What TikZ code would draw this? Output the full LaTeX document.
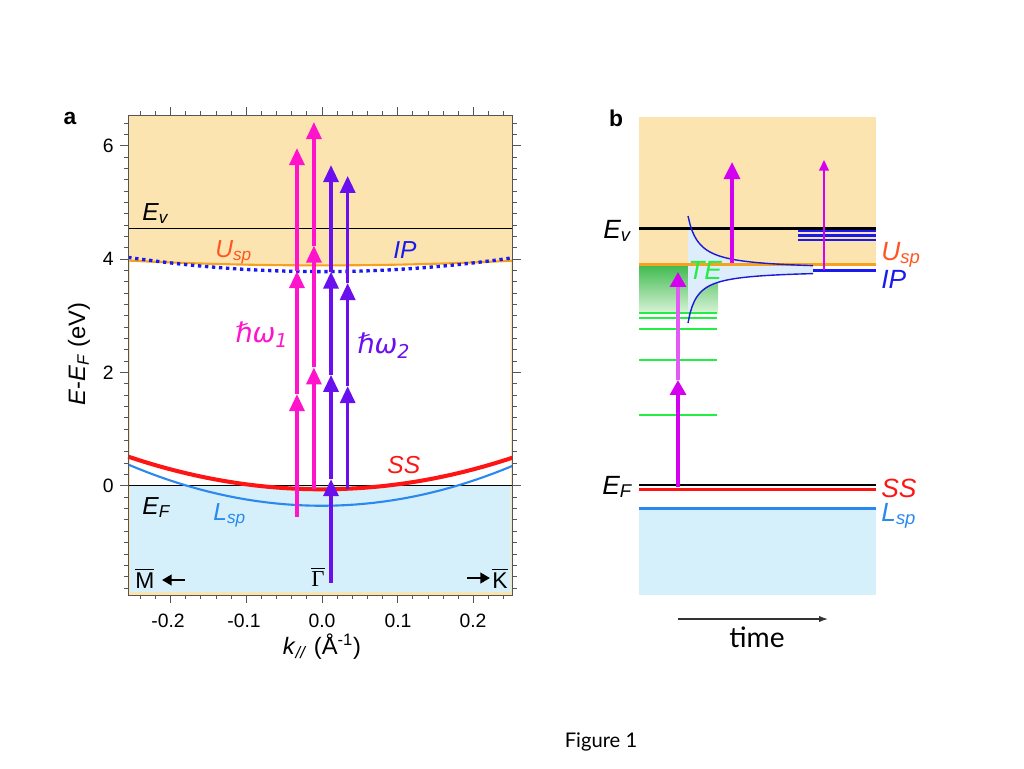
\documentclass[tikz,border=0pt]{standalone}
\usepackage{fontspec}
\setmainfont{Liberation Sans}
\newfontfamily\dvsans{DejaVu Sans}
\newfontfamily\lserif{Liberation Serif}
\newfontfamily\capfont{Lato}
\usetikzlibrary{arrows.meta, positioning, calc}
\definecolor{vacorange}{HTML}{FCE4B0}
\definecolor{bulkblue}{HTML}{D5F0FB}
\definecolor{usporange}{HTML}{F7A21E}
\definecolor{usplabel}{HTML}{FF5522}
\definecolor{ipblue}{HTML}{1A1AEE}
\definecolor{ssred}{HTML}{FF1414}
\definecolor{lspblue}{HTML}{2A88EE}
\definecolor{pumpmag}{HTML}{FF14CC}
\definecolor{probepur}{HTML}{6A10EE}
\definecolor{bmag}{HTML}{D400F0}
\definecolor{tegreen}{HTML}{22EE44}
\definecolor{tetop}{HTML}{3CB94B}
\definecolor{tebot}{HTML}{D8F3D8}
\definecolor{wpblue}{HTML}{DDEDFC}
\definecolor{wpline}{HTML}{1A1AD8}
\definecolor{framegray}{HTML}{555555}

\begin{document}
\begin{tikzpicture}[
    x=0.02cm, y=-0.02cm,
    ticklbl/.style={
        font=\fontsize{11}{13}\selectfont,
        inner sep=0pt
    },
    lbla/.style={
        font=\fontsize{14}{16}\selectfont\itshape,
        inner sep=0pt
    },
    lblb/.style={
        font=\fontsize{15}{17}\selectfont\itshape,
        inner sep=0pt
    },
    photon/.style={
        line width=2pt,
        -{Triangle[width=8.5pt, length=9.7pt]}
    },
    level/.style={line width=1.7pt},
    axtick/.style={draw=framegray, line width=0.5pt}
]
\useasboundingbox (0,0) rectangle (1024,768);

% Panel letters
\node[font=\fontsize{13}{15}\selectfont\bfseries, inner sep=0pt] (pa) at (70,118) {a};
\node[font=\fontsize{13}{15}\selectfont\bfseries, inner sep=0pt] (pb) at (616,118) {b};

% Panel a (data coordinates: k in 1/A, E in eV)
\begin{scope}[xshift=6.44cm, yshift=-9.72cm, x=15.14cm, y=1.134cm]
  \fill[vacorange] (-0.256,6.54) rectangle (0.252,-1.93);
  \fill[white] plot[domain=-0.2535:0.2495, samples=40] (\x,{3.89+1.3*(\x)*(\x)})
      -- (0.2495,0) -- (-0.2535,0) -- cycle;
  \fill[bulkblue] (-0.2535,0) rectangle (0.2495,-1.88);

  % reference levels
  \draw[line width=0.5pt] (-0.256,4.55) -- (0.252,4.55);
  \draw[line width=0.5pt] (-0.256,0) -- (0.252,0);

  % bands
  \draw[usporange, line width=1.2pt] plot[domain=-0.256:0.252, samples=40] (\x,{3.89+1.3*(\x)*(\x)});
  \draw[ipblue, line width=1.9pt, dash pattern=on 1.9pt off 2.1pt]
      plot[domain=-0.256:0.252, samples=40] (\x,{3.78+3.84*(\x)*(\x)});
  \draw[lspblue, line width=1.2pt] plot[domain=-0.256:0.252, samples=40] (\x,{-0.35+11.1*(\x)*(\x)});
  \draw[ssred, line width=2.3pt] plot[domain=-0.256:0.252, samples=40] (\x,{-0.06+8.8*(\x)*(\x)});

  % photon ladders
  \coordinate (m1a) at (-0.033,-0.55);
  \coordinate (m1b) at (-0.033,1.62);
  \coordinate (m1c) at (-0.033,3.79);
  \coordinate (m1d) at (-0.033,5.96);
  \coordinate (m2a) at (-0.0106,-0.06);
  \coordinate (m2b) at (-0.0106,2.09);
  \coordinate (m2c) at (-0.0106,4.24);
  \coordinate (m2d) at (-0.0106,6.42);
  \coordinate (p1a) at (0.012,-1.71);
  \coordinate (p1b) at (0.012,0.12);
  \coordinate (p1c) at (0.012,1.96);
  \coordinate (p1d) at (0.012,3.78);
  \coordinate (p1e) at (0.012,5.66);
  \coordinate (p2a) at (0.034,-0.06);
  \coordinate (p2b) at (0.034,1.76);
  \coordinate (p2c) at (0.034,3.58);
  \coordinate (p2d) at (0.034,5.47);

  \draw[photon, pumpmag] (m1a) -- (m1b);
  \draw[photon, pumpmag] (m1b) -- (m1c);
  \draw[photon, pumpmag] (m1c) -- (m1d);
  \draw[photon, pumpmag] (m2a) -- (m2b);
  \draw[photon, pumpmag] (m2b) -- (m2c);
  \draw[photon, pumpmag] (m2c) -- (m2d);
  \draw[photon, probepur] (p1a) -- (p1b);
  \draw[photon, probepur] (p1b) -- (p1c);
  \draw[photon, probepur] (p1c) -- (p1d);
  \draw[photon, probepur] (p1d) -- (p1e);
  \draw[photon, probepur] (p2a) -- (p2b);
  \draw[photon, probepur] (p2b) -- (p2c);
  \draw[photon, probepur] (p2c) -- (p2d);

  % frame and ticks
  \draw[framegray, line width=0.7pt] (-0.256,-1.93) rectangle (0.252,6.54);
  \foreach \e in {-1.8,-1.6,...,6.45} {
    \draw[axtick] (-0.256,\e) -- ++(-0.0053,0);
    \draw[axtick] (0.252,\e) -- ++(0.0053,0);
  }
  \foreach \e in {0,2,4,6} {
    \draw[axtick] (-0.256,\e) -- ++(-0.0106,0);
    \draw[axtick] (0.252,\e) -- ++(0.0106,0);
  }
  \foreach \k in {-0.24,-0.22,...,0.245} {
    \draw[axtick] (\k,-1.93) -- ++(0,-0.07);
    \draw[axtick] (\k,6.54) -- ++(0,0.07);
  }
  \foreach \k in {-0.2,-0.1,0,0.1,0.2} {
    \draw[axtick] (\k,-1.93) -- ++(0,-0.14);
    \draw[axtick] (\k,6.54) -- ++(0,0.14);
  }
\end{scope}

% Panel a tick labels
\node[ticklbl, anchor=east] (y6) at (114,146) {6};
\node[ticklbl, anchor=east] (y4) at (114,259) {4};
\node[ticklbl, anchor=east] (y2) at (114,373) {2};
\node[ticklbl, anchor=east] (y0) at (114,486) {0};
\node[ticklbl, anchor=north] (xm2) at (168,614) {-0.2};
\node[ticklbl, anchor=north] (xm1) at (244,614) {-0.1};
\node[ticklbl, anchor=north] (x00) at (322,614) {0.0};
\node[ticklbl, anchor=north] (xp1) at (398,614) {0.1};
\node[ticklbl, anchor=north] (xp2) at (473,614) {0.2};

% Panel a axis titles
\node[font=\fontsize{13.5}{15}\selectfont, rotate=90, inner sep=0pt] (ytitle) at (79,354)
    {\textit{E}-\textit{E}\textsubscript{\textit{F}} (eV)};
\node[font=\fontsize{13.5}{15}\selectfont, inner sep=0pt] (xtitle) at (322,647)
    {\textit{k}\textsubscript{\textit{//}} (Å\textsuperscript{-1})};

% Panel a labels
\node[lbla, anchor=base west] (evA) at (142,220) {E\textsubscript{v}};
\node[lbla, anchor=base west, usplabel] (uspA) at (215,257) {U\textsubscript{sp}};
\node[lbla, anchor=base west, ipblue] (ipA) at (393,258) {IP};
\node[lbla, anchor=base west, ssred] (ssA) at (387,473) {SS};
\node[lbla, anchor=base west] (efA) at (142,514) {E\textsubscript{F}};
\node[lbla, anchor=base west, lspblue] (lspA) at (213,520) {L\textsubscript{sp}};
\node[font=\fontsize{15.5}{17}\selectfont\dvsans\itshape, inner sep=0pt, anchor=base west, pumpmag]
    (hw1) at (235,342) {ℏω\textsubscript{1}};
\node[font=\fontsize{15.5}{17}\selectfont\dvsans\itshape, inner sep=0pt, anchor=base west, probepur]
    (hw2) at (357,353) {ℏω\textsubscript{2}};

% high-symmetry points
\node[font=\fontsize{13}{15}\selectfont, inner sep=0pt, anchor=base west] (ptM) at (135,588) {$\overline{\mbox{M}}$};
\node[font=\fontsize{13}{15}\selectfont, inner sep=0pt, anchor=base west] (ptG) at (311,586) {$\overline{\mbox{\lserif Γ}}$};
\node[font=\fontsize{13}{15}\selectfont, inner sep=0pt, anchor=base west] (ptK) at (492,588) {$\overline{\mbox{K}}$};
\coordinate (mArrS) at (185,580);
\coordinate (mArrE) at (162,580);
\coordinate (kArrS) at (467,578);
\coordinate (kArrE) at (490,578);
\draw[line width=1.6pt, -{Triangle[width=6pt, length=5.5pt]}] (mArrS) -- (mArrE);
\draw[line width=1.6pt, -{Triangle[width=6pt, length=5.5pt]}] (kArrS) -- (kArrE);

% Panel b: time-resolved picture
\fill[vacorange] (639,117) rectangle (876,264);
\fill[bulkblue] (639,508) rectangle (876,595);
\shade[top color=tetop, bottom color=tebot] (639,264) rectangle (718,313);

% image-potential wave packet
\fill[wpblue] plot[domain=688:813, samples=60] (\x,{270-594/(\x-677)})
    -- plot[domain=813:688, samples=60] (\x,{270+482/(\x-678.9)}) -- cycle;

% thermalised electrons
\foreach \yy in {313,318,329,360,415} {
  \draw[tegreen, line width=1.5pt] (639,\yy) -- (717,\yy);
}

% levels
\draw[level] (639,228) -- (876,228);
\draw[ipblue, line width=1.4pt] (798,231) -- (876,231);
\draw[ipblue, line width=1.4pt] (798,235.5) -- (876,235.5);
\draw[ipblue, line width=1.4pt] (798,240) -- (876,240);
\draw[usporange, level] (639,264) -- (876,264);
\draw[ipblue, level] (813,270) -- (876,270);
\draw[line width=0.7pt] (639,485) -- (876,485);
\draw[ssred, level] (639,489) -- (876,489);
\draw[lspblue, level] (639,508) -- (876,508);

\draw[wpline, line width=0.8pt] plot[domain=688:813, samples=60] (\x,{270-594/(\x-677)});
\draw[wpline, line width=0.8pt] plot[domain=688:813, samples=60] (\x,{270+482/(\x-678.9)});

% excitation arrows
\coordinate (bA0) at (678,487);
\coordinate (bA1) at (678,380);
\coordinate (bA2) at (678,272);
\coordinate (bB0) at (732,263);
\coordinate (bB1) at (732,162);
\coordinate (bC0) at (824,270);
\coordinate (bC1) at (824,160);
\draw[line width=2pt, bmag, -{Triangle[width=9pt, length=8.5pt]}] (bA0) -- (bA1);
\draw[line width=2pt, bmag!65, -{Triangle[width=9pt, length=8.5pt, color=bmag]}] (bA1) -- (bA2);
\draw[line width=2pt, bmag, -{Triangle[width=9pt, length=9.7pt]}] (bB0) -- (bB1);
\draw[line width=0.9pt, bmag, -{Triangle[width=5.5pt, length=6pt]}] (bC0) -- (bC1);

% Panel b labels
\node[lblb, anchor=base west] (evB) at (603,238) {E\textsubscript{v}};
\node[lblb, anchor=base west] (efB) at (602,494) {E\textsubscript{F}};
\node[lblb, anchor=base west, usplabel] (uspB) at (881,260) {U\textsubscript{sp}};
\node[lblb, anchor=base west, ipblue] (ipB) at (881,288) {IP};
\node[lblb, anchor=base west, ssred] (ssB) at (881,497) {SS};
\node[lblb, anchor=base west, lspblue] (lspB) at (881,521) {L\textsubscript{sp}};
\node[lblb, anchor=base west, tegreen] (teB) at (688,279) {TE};

% time axis
\coordinate (tStart) at (678,619);
\coordinate (tEnd) at (828,619);
\draw[line width=0.7pt, color=black!80, -{Latex[length=5pt, width=3.5pt]}] (tStart) -- (tEnd);
\node[font=\fontsize{16}{18}\selectfont\capfont, inner sep=0pt, anchor=base] (timeLbl) at (757,647) {time};

% caption
\node[font=\fontsize{11.5}{13}\selectfont\capfont, inner sep=0pt, anchor=base] (figLbl) at (601,747) {Figure 1};

\end{tikzpicture}
\end{document}
